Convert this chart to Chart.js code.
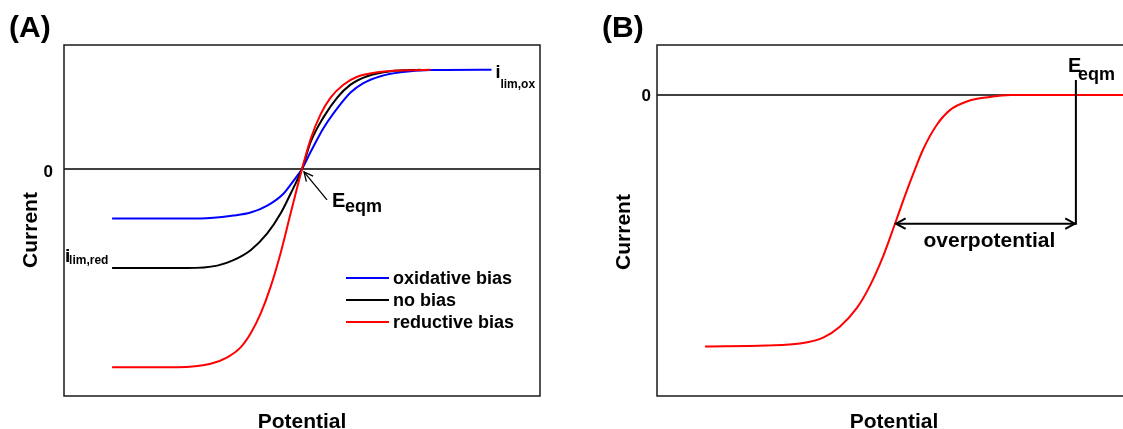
<!DOCTYPE html>
<html>
<head>
<meta charset="utf-8">
<title>Current vs potential</title>
<script src="https://cdn.jsdelivr.net/npm/chart.js@4.4.1/dist/chart.umd.min.js"></script>
<style>
  html, body { margin: 0; padding: 0; background: #fff; overflow: hidden; }
  #wrap { position: relative; width: 1123px; height: 429px; overflow: hidden; }
  #chartA { position: absolute; left: 0; top: 0; }
  #chartB { position: absolute; left: 560px; top: 0; }
</style>
</head>
<body>
<div id="wrap">
  <canvas id="chartA" width="560" height="429"></canvas>
  <canvas id="chartB" width="590" height="429"></canvas>
</div>
<script>
// potential in arbitrary units (0..100 across the box), current in units of i_lim,ox
const oxidativeX = [10.1, 28.7, 35.6, 39.2, 42.7, 46.1, 48.2, 50, 51.8, 54.5, 57.4, 60.2, 62.9, 66.5, 70.7, 77, 89.8];
const oxidativeY = [-0.50, -0.50, -0.47, -0.44, -0.37, -0.25, -0.12, 0, 0.17, 0.41, 0.61, 0.77, 0.865, 0.935, 0.975, 0.997, 1.0];

const noBiasX = [10.1, 25.9, 32.2, 35.6, 39.2, 42.7, 45.5, 47.6, 50, 51.8, 54.5, 57.4, 60.2, 63.7, 68.6, 74.9];
const noBiasY = [-1.0, -1.0, -0.975, -0.92, -0.82, -0.65, -0.45, -0.25, 0, 0.27, 0.52, 0.72, 0.85, 0.935, 0.985, 1.0];

const reductiveX = [10.1, 23.8, 30.8, 34.3, 37.1, 39.2, 41.3, 43.4, 45.5, 47.6, 50, 51.8, 53.9, 56, 58.7, 61.6, 65.8, 72.1, 77];
const reductiveY = [-2.0, -2.0, -1.965, -1.9, -1.8, -1.66, -1.46, -1.19, -0.85, -0.45, 0, 0.30, 0.55, 0.72, 0.85, 0.93, 0.975, 0.995, 1.0];

const panelBX = [10.1, 23.0, 30.0, 34.9, 38.4, 42.0, 44.7, 47.5, 50.0, 51.7, 53.8, 55.9, 58.8, 61.6, 65.1, 70.0, 74.2, 100];
const panelBY = [-2.54, -2.53, -2.51, -2.45, -2.34, -2.15, -1.93, -1.63, -1.30, -1.07, -0.80, -0.55, -0.30, -0.15, -0.065, -0.02, 0, 0];

const zeroTick = '0';
const legendLabels = ['oxidative bias', 'no bias', 'reductive bias'];
const legendColors = ['#0000ff', '#000000', '#ff0000'];
const eqmPotentialB = 88.0;   // E_eqm position in panel B
const overpotentialAt = 50.0; // where the overpotential arrow meets the curve

const FONT = '"Liberation Sans", Arial, sans-serif';

function pts(xs, ys) {
  return xs.map((x, i) => ({x: x, y: ys[i]}));
}

function line(color, data) {
  return {
    data: data,
    borderColor: color,
    borderWidth: 2,
    pointRadius: 0,
    fill: false,
    cubicInterpolationMode: 'monotone'
  };
}

function zeroLine(xmax) {
  return {
    data: [{x: 0, y: 0}, {x: xmax, y: 0}],
    borderColor: '#000',
    borderWidth: 1.4,
    pointRadius: 0,
    fill: false
  };
}

function txt(ctx, s, x, y, size, align) {
  ctx.font = 'bold ' + size + 'px ' + FONT;
  ctx.textAlign = align || 'left';
  ctx.textBaseline = 'alphabetic';
  ctx.fillStyle = '#000';
  ctx.fillText(s, x, y);
}

function vertTxt(ctx, s, x, y, size) {
  ctx.save();
  ctx.translate(x, y);
  ctx.rotate(-Math.PI / 2);
  txt(ctx, s, 0, 0, size, 'center');
  ctx.restore();
}

function border(ctx, a) {
  ctx.save();
  ctx.strokeStyle = '#1a1a1a';
  ctx.lineWidth = 1.5;
  ctx.strokeRect(a.left, a.top, a.right - a.left, a.bottom - a.top);
  ctx.restore();
}

// open V-shaped arrow head pointing along angle ang at (x, y)
function head(ctx, x, y, ang, len, spread) {
  ctx.beginPath();
  ctx.moveTo(x - len * Math.cos(ang - spread), y - len * Math.sin(ang - spread));
  ctx.lineTo(x, y);
  ctx.lineTo(x - len * Math.cos(ang + spread), y - len * Math.sin(ang + spread));
  ctx.stroke();
}

const panelAPlugin = {
  id: 'panelA',
  afterDraw(chart) {
    const {ctx, chartArea, scales} = chart;
    const xs = scales.x, ys = scales.y;
    border(ctx, chartArea);

    txt(ctx, '(A)', 9, 37, 30);
    txt(ctx, zeroTick, 53, 177, 17, 'right');
    vertTxt(ctx, 'Current', 37, 230, 21);
    txt(ctx, 'Potential', 302, 428, 21, 'center');

    // limiting currents
    const xEnd = xs.getPixelForValue(oxidativeX[oxidativeX.length - 1]);
    const yOx = ys.getPixelForValue(oxidativeY[oxidativeY.length - 1]);
    txt(ctx, 'i', xEnd + 4, yOx + 8, 18);
    txt(ctx, 'lim,ox', xEnd + 9, yOx + 18, 12);
    const xStart = xs.getPixelForValue(noBiasX[0]);
    const yRed = ys.getPixelForValue(noBiasY[0]);
    txt(ctx, 'i', xStart - 47, yRed - 6, 19);
    txt(ctx, 'lim,red', xStart - 43, yRed - 4, 12);

    // E_eqm arrow at the crossing point
    const cx = xs.getPixelForValue(50), cy = ys.getPixelForValue(0);
    ctx.save();
    ctx.strokeStyle = '#000';
    ctx.lineWidth = 1.3;
    ctx.beginPath();
    ctx.moveTo(cx + 25, cy + 31);
    ctx.lineTo(cx + 2, cy + 3);
    ctx.stroke();
    head(ctx, cx + 2, cy + 3, Math.atan2(-28, -23), 10, 0.45);
    ctx.restore();
    txt(ctx, 'E', cx + 30, cy + 38, 20);
    txt(ctx, 'eqm', cx + 43, cy + 43, 18);

    // legend
    const ly = [278, 300, 322];
    ctx.save();
    ctx.lineWidth = 2.2;
    legendLabels.forEach((lab, i) => {
      ctx.strokeStyle = legendColors[i];
      ctx.beginPath();
      ctx.moveTo(346, ly[i]);
      ctx.lineTo(389, ly[i]);
      ctx.stroke();
      txt(ctx, lab, 393, ly[i] + 6, 18);
    });
    ctx.restore();
  }
};

const panelBPlugin = {
  id: 'panelB',
  afterDraw(chart) {
    const {ctx, chartArea, scales} = chart;
    const xs = scales.x, ys = scales.y;
    border(ctx, chartArea);

    txt(ctx, '(B)', 42, 37, 30);
    txt(ctx, zeroTick, 91, 101, 17, 'right');
    vertTxt(ctx, 'Current', 70, 232, 21);
    txt(ctx, 'Potential', 334, 428, 21, 'center');

    const ex = xs.getPixelForValue(eqmPotentialB);
    const ax = xs.getPixelForValue(overpotentialAt);
    const ay = ys.getPixelForValue(panelBY[panelBX.indexOf(overpotentialAt)]);
    const top = ys.getPixelForValue(0) - 15;

    ctx.save();
    ctx.strokeStyle = '#000';
    ctx.lineWidth = 2;
    ctx.beginPath();
    ctx.moveTo(ex, top);
    ctx.lineTo(ex, ay);
    ctx.lineTo(ax + 1, ay);
    ctx.stroke();
    head(ctx, ax + 1, ay, Math.PI, 11, 0.5);
    head(ctx, ex - 1, ay, 0, 11, 0.5);
    ctx.restore();

    txt(ctx, 'E', ex - 8, top - 8, 20);
    txt(ctx, 'eqm', ex + 2, top + 0, 18);
    txt(ctx, 'overpotential', (ax + ex) / 2 + 4, ay + 23, 21, 'center');
  }
};

function baseOptions(pad, ymin, ymax) {
  return {
    responsive: false,
    animation: false,
    devicePixelRatio: 1,
    layout: {padding: pad},
    plugins: {legend: {display: false}, tooltip: {enabled: false}},
    scales: {
      x: {type: 'linear', min: 0, max: 100, display: false},
      y: {type: 'linear', min: ymin, max: ymax, display: false}
    }
  };
}

new Chart(document.getElementById('chartA'), {
  type: 'line',
  data: {
    datasets: [
      line('#ff0000', pts(reductiveX, reductiveY)),
      line('#000000', pts(noBiasX, noBiasY)),
      line('#0000ff', pts(oxidativeX, oxidativeY)),
      zeroLine(100)
    ]
  },
  options: baseOptions({left: 64, right: 20, top: 45, bottom: 33}, -2.29, 1.25),
  plugins: [panelAPlugin]
});

new Chart(document.getElementById('chartB'), {
  type: 'line',
  data: {
    datasets: [
      line('#ff0000', pts(panelBX, panelBY)),
      zeroLine(100)
    ]
  },
  options: baseOptions({left: 97, right: 17, top: 45, bottom: 33}, -3.04, 0.505),
  plugins: [panelBPlugin]
});
</script>
</body>
</html>
